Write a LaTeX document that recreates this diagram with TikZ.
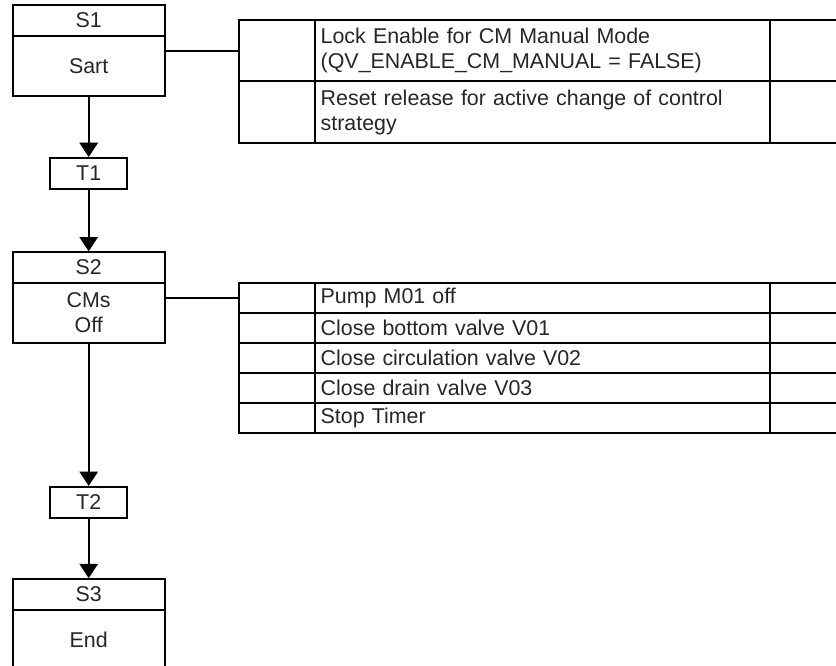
\documentclass[tikz,border=0pt]{standalone}
\usepackage{fontspec}
\setmainfont{Liberation Sans}
\usetikzlibrary{arrows.meta}
\begin{document}
\begin{tikzpicture}[x=1pt,y=-1pt,line width=1.9pt,
  every node/.style={font=\fontsize{21.4}{25}\selectfont,text=black!85},
  stephead/.style={draw,minimum width=152.3pt,minimum height=30.4pt,inner sep=0pt},
  stepbody/.style={draw,minimum width=152.3pt,inner sep=0pt,align=center},
  trans/.style={draw,minimum width=77pt,minimum height=31pt,inner sep=0pt},
  flow/.style={-{Triangle[width=18.3pt,length=14.3pt]}},
  cell/.style={draw,anchor=north west,inner sep=0pt,outer sep=0pt},
  blank/.style={cell,minimum width=76.6pt},
  act/.style={cell,minimum width=454.4pt,text width=443.6pt,inner xsep=5.4pt,align=left},
  tail/.style={cell,minimum width=100pt}]
\useasboundingbox (0,0) rectangle (836,666);
\clip (0,0) rectangle (836,666);

% steps and transitions
\node[stephead] (s1h) at (88.7,20.5) {S1};
\node[stepbody,minimum height=60.6pt] (s1b) at (88.7,66) {Sart};
\node[trans] (t1) at (88.7,173.5) {T1};
\node[stephead] (s2h) at (88.7,267.5) {S2};
\node[stepbody,minimum height=60pt] (s2b) at (88.7,312.7) {CMs\\Off};
\node[trans] (t2) at (88.7,502.35) {T2};
\node[stephead] (s3h) at (88.7,594.35) {S3};
\node[stepbody,minimum height=60.3pt] (s3b) at (88.7,639.85) {End};

\draw[flow] (s1b.south) -- (t1.north);
\draw[flow] (t1.south) -- (s2h.north);
\draw[flow] (s2b.south) -- (t2.north);
\draw[flow] (t2.south) -- (s3h.north);

% action table of S1
\node[blank,minimum height=61.35pt] (a1) at (238.7,20) {};
\node[act,minimum height=61.35pt] (a1t) at (315.3,20) {Lock Enable for CM Manual Mode\\(QV\_ENABLE\_CM\_MANUAL = FALSE)};
\node[tail,minimum height=61.35pt] (a1e) at (769.7,20) {};
\node[blank,minimum height=61.35pt] (a2) at (238.7,81.35) {};
\node[act,minimum height=61.35pt] (a2t) at (315.3,81.35) {Reset release for active change of control strategy};
\node[tail,minimum height=61.35pt] (a2e) at (769.7,81.35) {};

% action table of S2
\node[blank,minimum height=30.12pt] (b1) at (238.7,282.7) {};
\node[act,minimum height=30.12pt] (b1t) at (315.3,282.7) {Pump M01 off};
\node[tail,minimum height=30.12pt] (b1e) at (769.7,282.7) {};
\node[blank,minimum height=30.12pt] (b2) at (238.7,312.82) {};
\node[act,minimum height=30.12pt] (b2t) at (315.3,312.82) {Close bottom valve V01};
\node[tail,minimum height=30.12pt] (b2e) at (769.7,312.82) {};
\node[blank,minimum height=30.12pt] (b3) at (238.7,342.94) {};
\node[act,minimum height=30.12pt] (b3t) at (315.3,342.94) {Close circulation valve V02};
\node[tail,minimum height=30.12pt] (b3e) at (769.7,342.94) {};
\node[blank,minimum height=30.12pt] (b4) at (238.7,373.06) {};
\node[act,minimum height=30.12pt] (b4t) at (315.3,373.06) {Close drain valve V03};
\node[tail,minimum height=30.12pt] (b4e) at (769.7,373.06) {};
\node[blank,minimum height=30.12pt] (b5) at (238.7,403.18) {};
\node[act,minimum height=30.12pt] (b5t) at (315.3,403.18) {Stop Timer};
\node[tail,minimum height=30.12pt] (b5e) at (769.7,403.18) {};

% links from steps to their actions
\draw (a1.west -| s1b.east) -- (a1.west);
\draw (b1.west -| s2b.east) -- (b1.west);
\end{tikzpicture}
\end{document}
